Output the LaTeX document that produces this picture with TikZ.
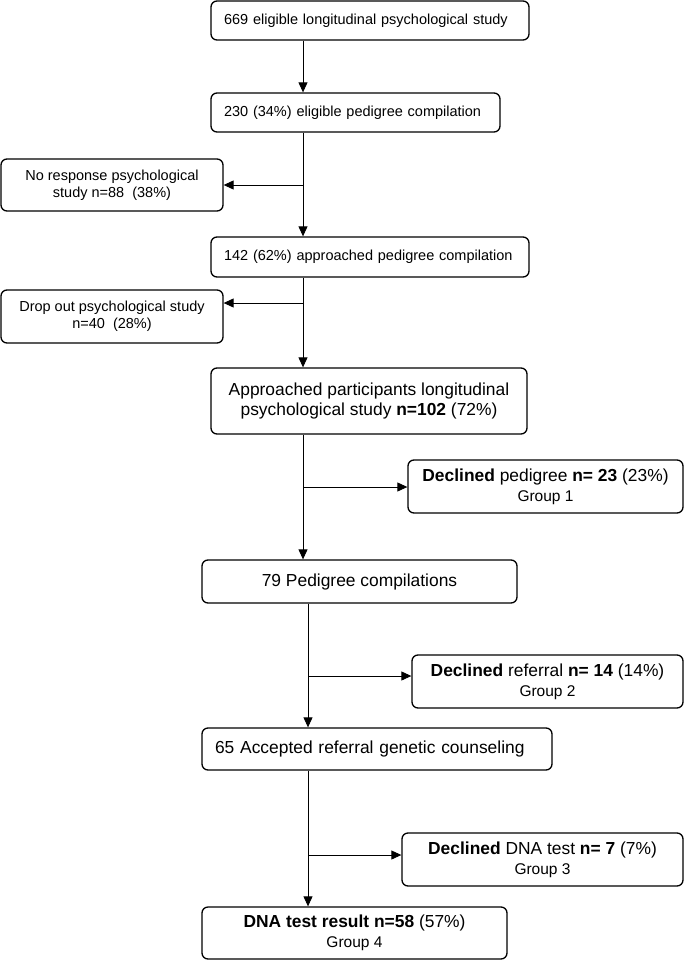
\documentclass[tikz,border=0pt]{standalone}
\usepackage{fontspec}
\setmainfont{Liberation Sans}
\usetikzlibrary{arrows.meta}
\newcommand*{\SmallText}{\fontsize{14.5}{17}\selectfont}
\newcommand*{\LargeText}{\fontsize{17.4}{20}\selectfont}
\newcommand*{\GroupText}{\fontsize{15.5}{18}\selectfont}

\begin{document}
\begin{tikzpicture}[x=1pt,y=-1pt,
    box/.style={draw=black, line width=1.3pt, rounded corners=6pt, inner ysep=0pt},
    leftbox/.style={box, align=left, inner xsep=13pt},
    midbox/.style={box, align=center, inner xsep=4pt},
    arr/.style={line width=.9pt, -{Triangle[length=10pt,width=9pt]}}]
    \useasboundingbox (0,0) rectangle (685,961);

    % main column
    \node[leftbox, font=\SmallText, text width=292pt, minimum height=39pt] (eligible) at (370,20.5)
      {669 eligible longitudinal psychological study};
    \node[leftbox, font=\SmallText, text width=263pt, minimum height=39pt] (pedigree) at (355.5,112.5)
      {230 (34\%) eligible pedigree compilation};
    \node[leftbox, font=\SmallText, text width=292pt, minimum height=40pt] (approached) at (370,257)
      {142 (62\%) approached pedigree compilation};
    \node[midbox, font=\LargeText, minimum width=316pt, minimum height=66pt] (study) at (369,401)
      {Approached participants longitudinal\\psychological study {\bfseries n=102} (72\%)};
    \node[midbox, font=\LargeText, minimum width=315pt, minimum height=43pt] (compiled) at (359.5,581.5)
      {79 Pedigree compilations};
    \node[leftbox, font=\LargeText, text width=324pt, minimum height=42pt] (accepted) at (377,749)
      {65 Accepted referral genetic counseling};
    \node[midbox, font=\LargeText, minimum width=305pt, minimum height=52pt] (result) at (354.5,933)
      {{\bfseries DNA test result n=58} (57\%)\\{\GroupText Group 4}};

    % side boxes
    \node[midbox, font=\SmallText, minimum width=222pt, minimum height=52pt] (noresp) at (112,185)
      {No response psychological\\study n=88~~(38\%)};
    \node[midbox, font=\SmallText, minimum width=222pt, minimum height=53pt] (dropout) at (112,316.5)
      {Drop out psychological study\\n=40~~(28\%)};
    \node[midbox, font=\LargeText, minimum width=275pt, minimum height=53pt] (declpedigree) at (545.5,486.5)
      {{\bfseries Declined} pedigree {\bfseries n= 23} (23\%)\\{\GroupText Group 1}};
    \node[midbox, font=\LargeText, minimum width=271pt, minimum height=53pt] (declreferral) at (547.5,681.5)
      {{\bfseries Declined} referral {\bfseries n= 14} (14\%)\\{\GroupText Group 2}};
    \node[midbox, font=\LargeText, minimum width=281pt, minimum height=53pt] (decldna) at (542.5,859.5)
      {{\bfseries Declined} DNA test {\bfseries n= 7} (7\%)\\{\GroupText Group 3}};

    % connectors
    \coordinate (top) at (303,0);
    \coordinate (low) at (308,0);
    \coordinate (j1) at (303,185);
    \coordinate (j2) at (303,303);
    \coordinate (j3) at (303,487);
    \coordinate (j4) at (308,676);
    \coordinate (j5) at (308,855);

    \foreach \a/\b/\c in {eligible/pedigree/top, pedigree/approached/top,
        approached/study/top, study/compiled/top,
        compiled/accepted/low, accepted/result/low}
      \draw[arr] (\a.south -| \c) -- (\b.north -| \c);

    \foreach \j/\t/\s in {j1/noresp/east, j2/dropout/east, j3/declpedigree/west,
        j4/declreferral/west, j5/decldna/west}
      \draw[arr] (\j) -- (\t.\s |- \j);
\end{tikzpicture}
\end{document}
